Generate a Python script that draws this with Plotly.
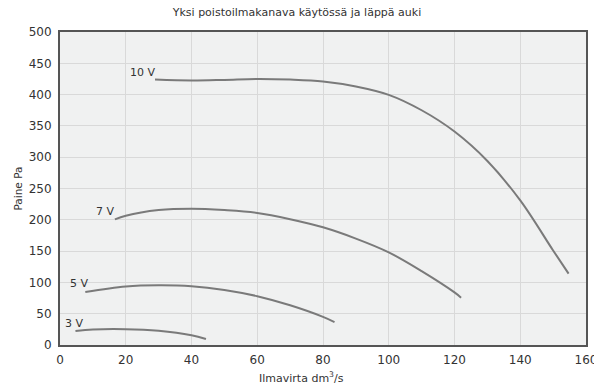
import plotly.graph_objects as go

title = "Yksi poistoilmakanava käytössä ja läppä auki"
x_label = "Ilmavirta dm<sup>3</sup>/s"
y_label = "Paine Pa"

x_10v = [28.9, 40, 50, 60, 70, 80, 90, 100, 110, 120, 130, 140, 150, 154.7]
y_10v = [424, 422.5, 423.5, 425, 424, 421, 413, 399.6, 375, 341, 294, 231, 151, 114]

x_7v = [16.7, 20, 30, 40, 50, 60, 70, 80, 90, 100, 110, 120, 122]
y_7v = [200.6, 206.5, 215.5, 217.7, 215.5, 211, 201, 188, 170, 148, 118, 84, 75.6]

x_5v = [7.7, 20, 30, 40, 50, 60, 70, 80, 83.5]
y_5v = [84.6, 93.5, 95.5, 94, 88, 78, 63.5, 45, 36.7]

x_3v = [4.7, 10, 20, 30, 40, 44.4]
y_3v = [22.4, 24.8, 25.3, 22.6, 15.5, 9.6]

series = [("10 V", x_10v, y_10v), ("7 V", x_7v, y_7v), ("5 V", x_5v, y_5v), ("3 V", x_3v, y_3v)]
label_x = [25, 13.8, 5.8, 4.3]
label_y = [435, 213, 98, 34]

x_ticks = [0, 20, 40, 60, 80, 100, 120, 140, 160]
y_ticks = [0, 50, 100, 150, 200, 250, 300, 350, 400, 450, 500]

FONT = "'DejaVu Sans', 'Open Sans', sans-serif"
TXT = "#333333"

fig = go.Figure()
for name, xs, ys in series:
    fig.add_trace(go.Scatter(x=xs, y=ys, mode="lines", name=name,
                             line=dict(color="#7a7a7a", width=2, shape="spline", smoothing=1.0),
                             showlegend=False, hoverinfo="skip"))

for (name, _, _), lx, ly in zip(series, label_x, label_y):
    fig.add_annotation(x=lx, y=ly, text=name, showarrow=False,
                       font=dict(size=11, color=TXT), xanchor="center", yanchor="middle")

# axis titles
fig.add_annotation(xref="paper", yref="paper", x=(301 - 60) / 526, y=0, yshift=-32, text=x_label,
                   showarrow=False, xanchor="center", yanchor="middle",
                   font=dict(size=11, color=TXT))
fig.add_annotation(xref="paper", yref="paper", x=0, y=0.5, xshift=-43, text=y_label,
                   showarrow=False, textangle=-90, xanchor="center", yanchor="middle",
                   font=dict(size=10.5, color=TXT))

fig.update_layout(
    width=594, height=389,
    margin=dict(l=60, r=8, t=32, b=44, autoexpand=False),
    paper_bgcolor="white",
    plot_bgcolor="#f0f1f1",
    font=dict(family=FONT, size=11, color=TXT),
    title=dict(text=title, x=0.5, xanchor="center", xref="container",
               y=1 - 12 / 389, yref="container", yanchor="middle",
               font=dict(size=11, color=TXT)),
)
fig.update_xaxes(range=[0, 160], tickvals=x_ticks, showgrid=True, gridcolor="#d9d9d9", gridwidth=1,
                 showline=True, linecolor="#555555", linewidth=2, mirror=True, zeroline=False,
                 ticks="", tickfont=dict(size=12, color=TXT), automargin=False,
                 ticklabeloverflow="allow", ticklabelstandoff=3)
fig.update_yaxes(range=[0, 500], tickvals=y_ticks, showgrid=True, gridcolor="#d9d9d9", gridwidth=1,
                 showline=True, linecolor="#555555", linewidth=2, mirror=True, zeroline=False,
                 ticks="", tickfont=dict(size=12, color=TXT), automargin=False,
                 ticklabelstandoff=4)

fig.write_html("out.html", config={"displayModeBar": False},
               post_script="document.body.style.margin='0';")
